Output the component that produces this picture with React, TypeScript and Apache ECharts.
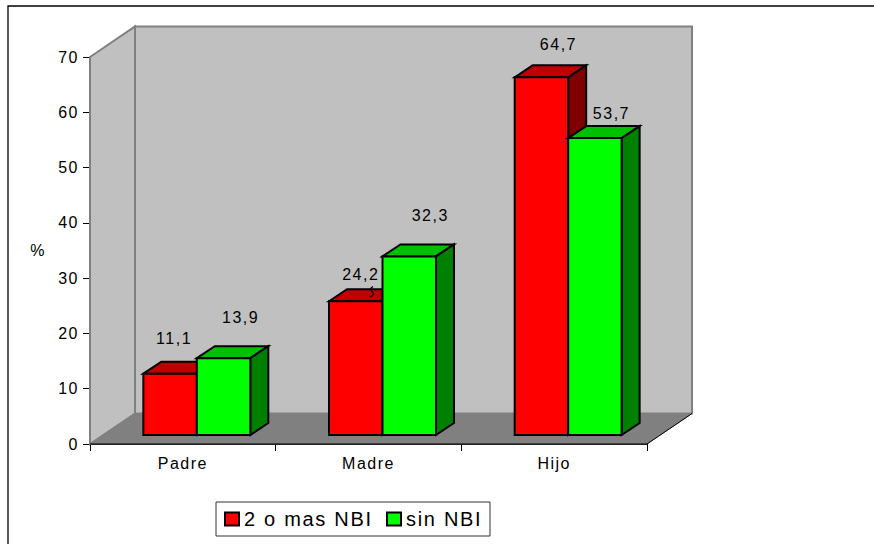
import React, { useEffect, useRef } from "react";
import * as echarts from "echarts";

const categories = ["Padre", "Madre", "Hijo"];
const seriesNames = ["2 o mas NBI", "sin NBI"];
const redValues = [11.1, 24.2, 64.7];
const greenValues = [13.9, 32.3, 53.7];
const yTicks = { min: 0, max: 70, interval: 10 };

const DX = 45;
const DY = -30.5;
const BAR_DX = 18;
const BAR_DY = -12;
const FONT = "'Liberation Sans', Arial, sans-serif";

const labelNudge = [
  [[4, -35], [17, -41]],
  [[5, -27], [21, -41]],
  [[17, -33], [16.5, -25]],
];

function wallItem(params: any, api: any) {
  if (params.dataIndex > 0) return null;
  const o = api.coord([0, 0]);
  const top = api.coord([0, 70])[1];
  const band = api.size([1, 0])[0];
  const x0 = o[0] - band / 2;
  const x1 = x0 + band * categories.length;
  const y0 = o[1];
  const sh = (points: number[][], fill: string, stroke: string, lw = 2) => ({
    type: "polygon",
    shape: { points },
    style: { fill, stroke, lineWidth: lw },
  });
  return {
    type: "group",
    children: [
      sh([[x0, top], [x0 + DX, top + DY], [x0 + DX, y0 + DY], [x0, y0]], "#c0c0c0", "#808080"),
      sh([[x0 + DX, top + DY], [x1 + DX, top + DY], [x1 + DX, y0 + DY], [x0 + DX, y0 + DY]], "#c0c0c0", "#808080"),
      sh([[x0, y0], [x0 + DX, y0 + DY], [x1 + DX, y0 + DY], [x1, y0]], "#808080", "#808080", 1),
      { type: "line", shape: { x1: x0, y1: y0, x2: x1, y2: y0 }, style: { stroke: "#000", lineWidth: 1 } },
      { type: "line", shape: { x1, y1: y0, x2: x1 + DX, y2: y0 + DY }, style: { stroke: "#000", lineWidth: 1 } },
    ],
  };
}

function barRenderer(seriesIdx: number, front: string, topC: string, side: string) {
  return (params: any, api: any) => {
    const cat = api.value(0);
    const val = api.value(1);
    const band = api.size([1, 0])[0];
    const w = band * 0.288;
    const c = api.coord([cat, 0]);
    const t = api.coord([cat, val]);
    const x0 = c[0] + 14 + (seriesIdx === 0 ? -w : 0);
    const x1 = x0 + w;
    const yb = c[1] - 9;
    const yt = t[1] - 9;
    const st = (fill: string) => ({ fill, stroke: "#000", lineWidth: 2, lineJoin: "miter" });
    const [nx, ny] = labelNudge[cat][seriesIdx];
    return {
      type: "group",
      children: [
        { type: "polygon", shape: { points: [[x0, yt], [x0 + BAR_DX, yt + BAR_DY], [x1 + BAR_DX, yt + BAR_DY], [x1, yt]] }, style: st(topC) },
        { type: "polygon", shape: { points: [[x1, yt], [x1 + BAR_DX, yt + BAR_DY], [x1 + BAR_DX, yb + BAR_DY], [x1, yb]] }, style: st(side) },
        { type: "rect", shape: { x: x0, y: yt, width: w, height: yb - yt }, style: st(front) },
        {
          type: "text",
          z2: 50,
          style: {
            x: (x0 + x1) / 2 + nx,
            y: yt + ny,
            text: String(val).replace(".", ","),
            align: "center",
            verticalAlign: "middle",
            fill: "#000",
            font: `16px ${FONT}`,
          },
        },
      ],
    };
  };
}

export default function App() {
  const ref = useRef<HTMLDivElement>(null);
  useEffect(() => {
    const chart = echarts.init(ref.current!, undefined, { renderer: "svg" });
    const legendBase = {
      top: 509,
      selectedMode: false,
      itemWidth: 14,
      itemHeight: 13,
      padding: 0,
      textStyle: { fontSize: 20, color: "#000" },
    };
    const swatch = { borderColor: "#000", borderWidth: 2 };
    chart.setOption({
      animation: false,
      backgroundColor: "#fff",
      textStyle: { fontFamily: FONT },
      grid: { left: 90, right: 227, top: 57, bottom: 100 },
      legend: [
        { ...legendBase, left: 224, data: [{ name: seriesNames[0], icon: "rect", itemStyle: { ...swatch, color: "#ff0000" } }] },
        { ...legendBase, left: 386, data: [{ name: seriesNames[1], icon: "rect", itemStyle: { ...swatch, color: "#00ff00" } }] },
      ],
      xAxis: {
        type: "category",
        data: categories,
        boundaryGap: true,
        axisLine: { lineStyle: { color: "#000", width: 1 } },
        axisTick: { show: true, alignWithLabel: false, length: 7, lineStyle: { color: "#000" } },
        axisLabel: { color: "#000", fontSize: 16, margin: 11 },
        splitLine: { show: false },
      },
      yAxis: {
        type: "value",
        min: yTicks.min,
        max: yTicks.max,
        interval: yTicks.interval,
        name: "%",
        nameLocation: "middle",
        nameRotate: 0,
        nameGap: 44,
        nameTextStyle: { color: "#000", fontSize: 16 },
        axisLine: { show: true, lineStyle: { color: "#000", width: 1 } },
        axisTick: { show: true, length: 7, lineStyle: { color: "#000" } },
        axisLabel: { color: "#000", fontSize: 16, margin: 11 },
        splitLine: { show: false },
      },
      series: [
        { type: "custom", name: "walls", silent: true, z: 1, clip: false, data: [[0, 0]], renderItem: wallItem },
        {
          type: "custom",
          name: seriesNames[0],
          z: 2,
          clip: false,
          itemStyle: { color: "#ff0000" },
          encode: { x: 0, y: 1 },
          data: redValues.map((v, i) => [i, v]),
          renderItem: barRenderer(0, "#ff0000", "#c00000", "#800000"),
        },
        {
          type: "custom",
          name: seriesNames[1],
          z: 3,
          clip: false,
          itemStyle: { color: "#00ff00" },
          encode: { x: 0, y: 1 },
          data: greenValues.map((v, i) => [i, v]),
          renderItem: barRenderer(1, "#00ff00", "#00c000", "#008000"),
        },
      ],
      graphic: [
        { type: "polyline", z: 100, shape: { points: [[8, 544], [8, 6], [874, 6]] }, style: { stroke: "#000", fill: "none", lineWidth: 1.3 } },
        { type: "polyline", z: 100, shape: { points: [[373, 286.5], [370.5, 288.5], [371, 290.5], [373, 292.5], [373, 295], [370, 297]] }, style: { stroke: "#000", fill: "none", lineWidth: 1.2 } },
        { type: "rect", z: 0, shape: { x: 216, y: 502, width: 274, height: 34 }, style: { fill: "#fff", stroke: "#333", lineWidth: 1 } },
      ],
    });
    return () => chart.dispose();
  }, []);
  return (
    <>
      <style>{`html,body{margin:0;padding:0;background:#fff}
#root svg text{letter-spacing:1.5px}
#root svg text[style*="20px"]{letter-spacing:1.7px}`}</style>
      <div ref={ref} style={{ width: 874, height: 544 }} />
    </>
  );
}
